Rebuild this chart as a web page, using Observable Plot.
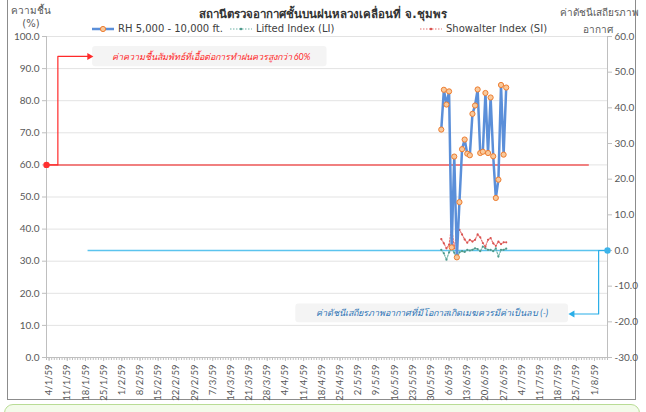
<!DOCTYPE html>
<html><head><meta charset="utf-8">
<script src="https://cdn.jsdelivr.net/npm/d3@7"></script>
<script src="https://cdn.jsdelivr.net/npm/@observablehq/plot@0.6"></script>
<style>
body{margin:0;width:646px;height:412px;position:relative;overflow:hidden;background:#fff;font-family:Tahoma,"DejaVu Sans",sans-serif;}
.frame{position:absolute;left:7px;top:-2px;width:629px;height:402px;border:1px solid #8c8c8c;box-sizing:border-box;}
.green{position:absolute;left:4px;top:404px;width:636px;height:30px;border:1px solid #b9dc95;background:#f3fbea;border-radius:9px;box-sizing:border-box;}
.t{position:absolute;white-space:nowrap;color:#595959;font-size:10px;}
#chart{position:absolute;left:0;top:0;}
.leg{position:absolute;top:23px;font-size:10px;color:#404040;white-space:nowrap;display:flex;align-items:center;}
.leg svg{margin-right:4px;}
</style></head>
<body>
<div class="frame"></div>
<div class="green"></div>
<div id="chart"></div>
<div class="t" style="left:0;width:646px;text-align:center;top:5px;font-size:11.5px;font-weight:bold;color:#333;">สถานีตรวจอากาศชั้นบนฝนหลวงเคลื่อนที่ จ.ชุมพร</div>
<div class="t" style="left:10px;width:42px;text-align:center;top:3px;">ความชื้น</div>
<div class="t" style="left:10px;width:42px;text-align:center;top:18px;">(%)</div>
<div class="t" style="left:560px;width:76px;text-align:center;top:5px;">ค่าดัชนีเสถียรภาพ</div>
<div class="t" style="left:560px;width:76px;text-align:center;top:22px;">อากาศ</div>
<div class="leg" style="left:92px;"><svg width="22" height="8"><line x1="0" y1="4" x2="22" y2="4" stroke="#5b8fd9" stroke-width="2.5"/><circle cx="11" cy="4" r="2.6" fill="#f9c99b" stroke="#ed7d31" stroke-width="1"/></svg>RH 5,000 - 10,000 ft.</div>
<div class="leg" style="left:230px;"><svg width="22" height="8"><line x1="0" y1="4" x2="22" y2="4" stroke="#6fb3a7" stroke-width="1.2" stroke-dasharray="1.5,1.5"/><circle cx="11" cy="4" r="1.3" fill="#4f9a8c"/></svg>Lifted Index (LI)</div>
<div class="leg" style="left:420px;"><svg width="22" height="8"><line x1="0" y1="4" x2="22" y2="4" stroke="#e57373" stroke-width="1.2" stroke-dasharray="1.5,1.5"/><circle cx="11" cy="4" r="1.3" fill="#d9534f"/></svg>Showalter Index (SI)</div>
<script>
// ---- data ----
const obsDates = ["2016-06-03","2016-06-04","2016-06-05","2016-06-06","2016-06-07","2016-06-08","2016-06-09","2016-06-10","2016-06-11","2016-06-12","2016-06-13","2016-06-14","2016-06-15","2016-06-16","2016-06-17","2016-06-18","2016-06-19","2016-06-20","2016-06-21","2016-06-22","2016-06-23","2016-06-24","2016-06-25","2016-06-26","2016-06-27","2016-06-28"];
const rhValues = [71.0, 83.4, 78.8, 82.9, 34.3, 62.6, 31.2, 48.4, 64.9, 67.9, 63.5, 63.0, 75.9, 78.5, 83.5, 63.7, 64.1, 82.4, 63.7, 81.0, 62.7, 49.7, 55.4, 84.9, 63.2, 84.1];
const liValues = [0.2, -0.8, -2.6, -0.5, 0.6, -0.6, -2.2, -0.5, -0.2, -0.4, 0.2, 0.0, 0.2, 0.6, 0.4, -0.2, 1.1, 0.6, 0.2, 0.2, -0.2, 0.6, -1.7, 0.2, 0.2, 0.5];
const siValues = [3.2, 2.0, 0.6, 1.6, 6.7, 0.6, 5.5, 5.8, 4.5, 3.1, 2.2, 3.0, 2.5, 3.0, 4.5, 3.7, 2.1, 1.1, 3.0, 3.5, 2.0, 1.3, 2.5, 1.8, 2.3, 2.3];
const xTickLabels = ["4/1/59","11/1/59","18/1/59","25/1/59","1/2/59","8/2/59","15/2/59","22/2/59","29/2/59","7/3/59","14/3/59","21/3/59","28/3/59","4/4/59","11/4/59","18/4/59","25/4/59","2/5/59","9/5/59","16/5/59","23/5/59","30/5/59","6/6/59","13/6/59","20/6/59","27/6/59","4/7/59","11/7/59","18/7/59","25/7/59","1/8/59"];
const leftTicks = [0,10,20,30,40,50,60,70,80,90,100];
const rightTicks = [-30,-20,-10,0,10,20,30,40,50,60];
const rhThreshold = 60;
const indexThreshold = 0;
const noteRH = "ค่าความชื้นสัมพัทธ์ที่เอื้อต่อการทำฝนควรสูงกว่า 60%";
const noteIdx = "ค่าดัชนีเสถียรภาพอากาศที่มีโอกาสเกิดเมฆควรมีค่าเป็นลบ (-)";

// ---- helpers ----
const D = s => new Date(s + "T00:00:00Z");
const H = (s, h) => new Date(D(s).getTime() + h * 3600e3);
const parseTick = s => { const [d, m] = s.split("/").map(Number); return new Date(Date.UTC(2016, m - 1, d)); };
const toLeft = v => (v + 30) / 0.9; // right axis (-30..60) onto left (0..100)
const rh = obsDates.map((d, i) => ({date: D(d), v: rhValues[i]}));
const li = obsDates.map((d, i) => ({date: D(d), v: toLeft(liValues[i])}));
const si = obsDates.map((d, i) => ({date: D(d), v: toLeft(siValues[i])}));
const xDomain = [D("2016-01-03"), D("2016-08-06")];
const tickDates = xTickLabels.map(parseTick);
const fmt = d3.utcFormat("%-d/%-m/59");
const days = d3.utcDay.range(xDomain[0], new Date(xDomain[1].getTime() + 1));

const redArrow = [{x: xDomain[0], y: rhThreshold}, {x: H("2016-01-07", 9), y: rhThreshold}, {x: H("2016-01-07", 9), y: 93.8}, {x: H("2016-01-19", 12), y: 93.8}];
const zeroL = toLeft(indexThreshold);
const blueArrow = [{x: xDomain[1], y: zeroL}, {x: H("2016-08-02", 14), y: zeroL}, {x: H("2016-08-02", 14), y: toLeft(-17.8)}, {x: H("2016-07-23", 12), y: toLeft(-17.8)}];

const chart = Plot.plot({
  width: 646, height: 400,
  marginLeft: 46, marginRight: 39, marginTop: 36, marginBottom: 43,
  x: {type: "utc", domain: xDomain},
  y: {domain: [0, 100]},
  style: {fontFamily: "Lato, 'DejaVu Sans', sans-serif", fontSize: "10px", color: "#595959", background: "transparent", overflow: "visible"},
  marks: [
    Plot.gridY(leftTicks, {stroke: "#e3e3e3", strokeOpacity: 1}),
    Plot.axisY({ticks: leftTicks, tickFormat: d => d.toFixed(1), tickSize: 4, tickPadding: 3, label: null, stroke: "#bfbfbf"}),
    Plot.axisY(rightTicks.map(toLeft), {anchor: "right", tickFormat: d => (d * 0.9 - 30).toFixed(1), tickSize: 4, tickPadding: 3, label: null, stroke: "#bfbfbf"}),
    Plot.ruleX([xDomain[0], xDomain[1]], {stroke: "#bfbfbf"}),
    Plot.ruleY([0], {stroke: "#bfbfbf"}),
    Plot.axisX(days, {tickSize: 3, tickFormat: () => "", stroke: "#bfbfbf", label: null}),
    Plot.axisX(tickDates, {tickSize: 4, tickFormat: fmt, tickRotate: -90, tickPadding: 3, label: null, stroke: "#bfbfbf", fontSize: 9.5}),
    // annotation boxes
    Plot.rect([{x1: H("2016-01-20", 18), x2: D("2016-04-20"), y1: 90.6, y2: 96.9}], {x1: "x1", x2: "x2", y1: "y1", y2: "y2", fill: "#f4f4f4", rx: 3}),
    Plot.text([noteRH], {x: H("2016-03-06", 8), y: 93.6, text: d => d, fill: "#ff2a2a", fontStyle: "italic", fontSize: 9}),
    Plot.rect([{x1: D("2016-04-08"), x2: D("2016-07-22"), y1: 10.8, y2: 16.7}], {x1: "x1", x2: "x2", y1: "y1", y2: "y2", fill: "#f4f4f4", rx: 3}),
    Plot.text([noteIdx], {x: H("2016-05-30", 12), y: 13.8, text: d => d, fill: "#2e75b6", fontStyle: "italic", fontSize: 9}),
    // threshold lines and arrows
    Plot.ruleY([rhThreshold], {x1: xDomain[0], x2: D("2016-07-30"), stroke: "#f05a5a", strokeWidth: 1.5}),
    Plot.ruleY([zeroL], {x1: D("2016-01-19"), x2: xDomain[1], stroke: "#5bc4ee", strokeWidth: 1.5}),
    Plot.line(redArrow, {x: "x", y: "y", stroke: "#ff2a2a", strokeWidth: 1.2}),
    Plot.dot([redArrow[3]], {x: "x", y: "y", symbol: "triangle", r: 2.6, fill: "#ff2a2a", rotate: 90}),
    Plot.line(blueArrow, {x: "x", y: "y", stroke: "#29aee8", strokeWidth: 1.2}),
    Plot.dot([blueArrow[3]], {x: "x", y: "y", symbol: "triangle", r: 2.6, fill: "#29aee8", rotate: -90}),
    Plot.dot([redArrow[0]], {x: "x", y: "y", r: 3.2, fill: "#ff3030"}),
    Plot.dot([blueArrow[0]], {x: "x", y: "y", r: 3.2, fill: "#3db4ea"}),
    // series
    Plot.line(li, {x: "date", y: "v", stroke: "#6fb3a7", strokeWidth: 1.2, strokeDasharray: "1.5,1.5"}),
    Plot.dot(li, {x: "date", y: "v", r: 1.1, fill: "#4f9a8c"}),
    Plot.line(si, {x: "date", y: "v", stroke: "#e57373", strokeWidth: 1.2, strokeDasharray: "1.5,1.5"}),
    Plot.dot(si, {x: "date", y: "v", r: 1.1, fill: "#d9534f"}),
    Plot.line(rh, {x: "date", y: "v", stroke: "#5b8fd9", strokeWidth: 2.5}),
    Plot.dot(rh, {x: "date", y: "v", r: 2.6, fill: "#f9c99b", stroke: "#ed7d31", strokeWidth: 1})
  ]
});
document.getElementById("chart").appendChild(chart);
</script>
</body></html>
